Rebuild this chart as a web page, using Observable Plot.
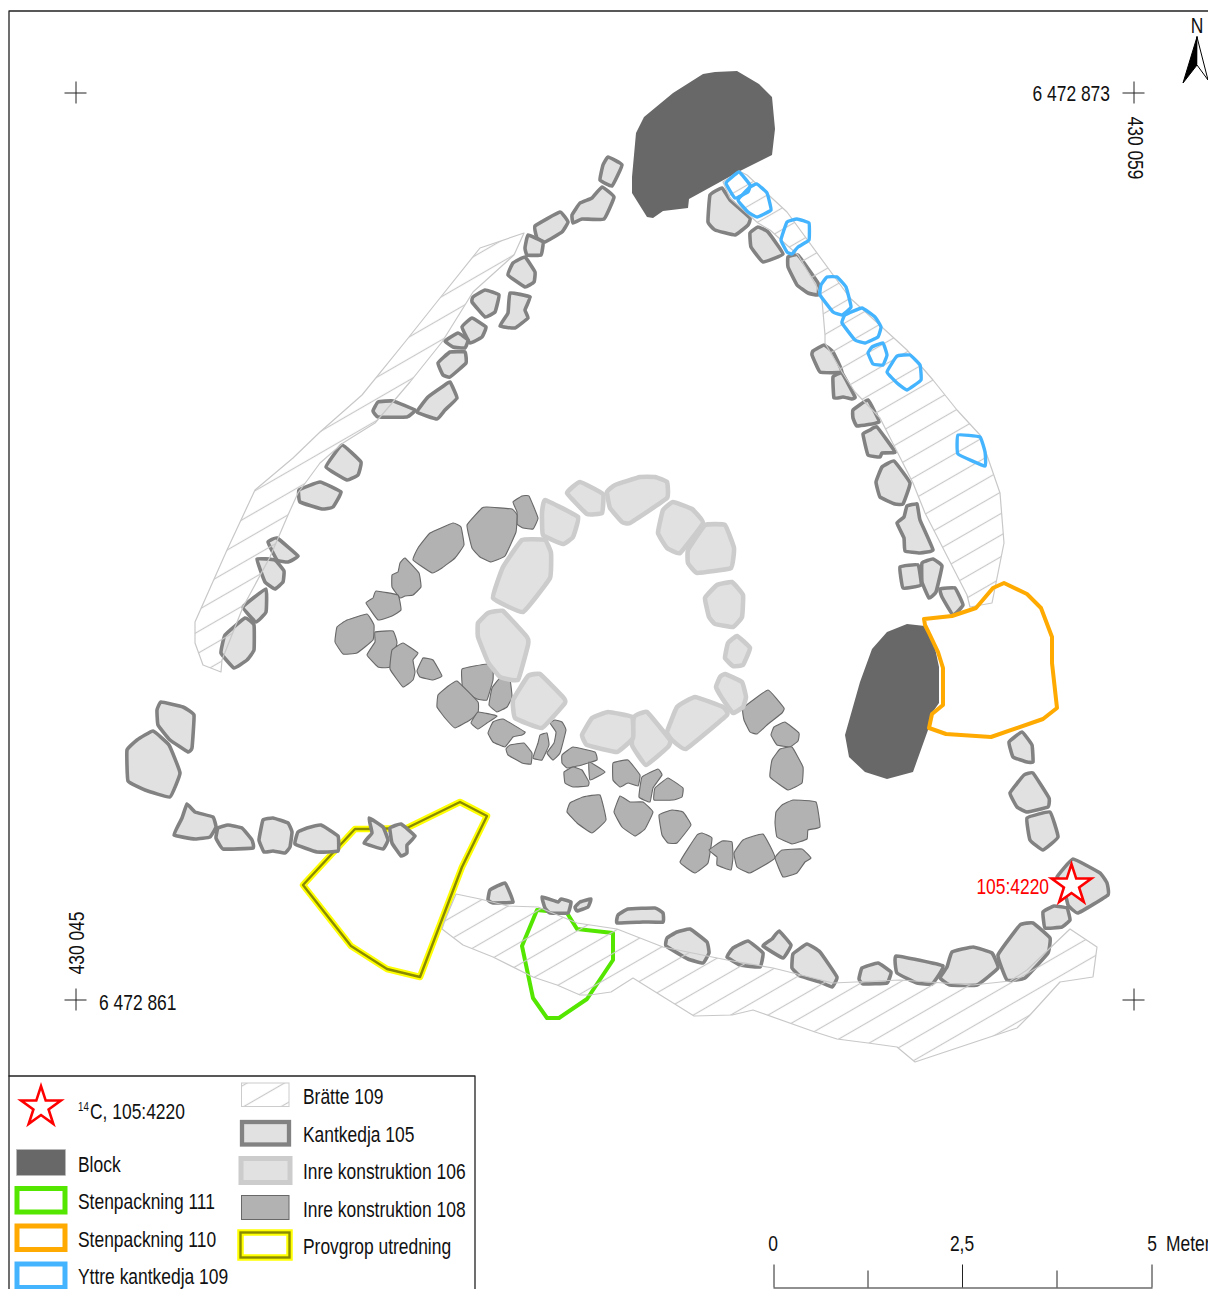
<!DOCTYPE html>
<html>
<head>
<meta charset="utf-8">
<script src="https://cdn.jsdelivr.net/npm/d3@7"></script>
<script src="https://cdn.jsdelivr.net/npm/@observablehq/plot@0.6"></script>
<style>html,body{margin:0;padding:0;background:#fff;overflow:hidden}svg{display:block}</style>
</head>
<body>
<div id="chart"></div>
<script>
// All polygons are in map units.
const block = [
[[737,71],[759,84],[772,97],[775,129],[772,155],[740,171],[689,199],[688,208],[663,211],[653,218],[647,217],[632,193],[632,177],[636,133],[644,117],[673,93],[703,74],[715,72]],
[[907,624],[925,626],[935,648],[939,667],[939,703],[932,713],[928,730],[913,772],[887,779],[865,772],[849,757],[845,735],[860,682],[872,649],[887,632]]
];
const stenpackning110 = [[[924,619],[952,616],[976,608],[993,588],[1004,583],[1027,594],[1041,608],[1052,637],[1052,663],[1057,708],[1043,719],[991,737],[946,734],[929,728],[932,714],[943,705],[943,668],[938,652],[929,633],[925,625]]];
const stenpackning111 = [[[537,910],[567,913],[577,929],[613,933],[613,960],[587,999],[559,1018],[547,1018],[533,998],[522,946]]];
const provgrop = [[[355,829],[368,829],[407,828],[460,802],[487,816],[462,867],[420,977],[387,969],[351,946],[303,885]]];
const yttreKantkedja109 = [
[[739,172],[750,185],[748,192],[735,198],[726,183]],
[[757,184],[767,193],[771,210],[757,217],[748,212],[738,200],[750,187]],
[[797,219],[809,223],[809,240],[798,247],[792,254],[787,252],[781,240],[787,222]],
[[827,277],[837,277],[846,287],[851,307],[842,315],[833,312],[820,295],[821,285]],
[[862,308],[875,317],[881,327],[878,337],[865,343],[855,340],[842,323],[845,315]],
[[883,343],[887,355],[883,365],[873,364],[868,353],[872,347]],
[[897,356],[910,355],[920,365],[921,380],[907,390],[897,383],[887,372]],
[[958,435],[980,437],[985,452],[985,466],[958,454]]
];
const kantkedja105 = [
[[608,157],[622,165],[612,186],[600,180],[603,165]],
[[602,187],[614,197],[604,219],[582,219],[573,223],[572,215],[580,203],[592,198]],
[[535,226],[560,212],[568,222],[562,232],[545,242],[537,238]],
[[528,235],[543,242],[541,255],[527,255],[525,248]],
[[525,257],[535,272],[534,282],[525,287],[508,275],[513,263]],
[[485,290],[499,295],[495,312],[485,317],[472,302],[473,297]],
[[510,293],[530,297],[525,310],[528,318],[515,328],[500,326],[508,313]],
[[472,318],[486,327],[482,337],[470,343],[462,327]],
[[458,333],[468,340],[465,348],[453,347],[445,341]],
[[450,352],[465,352],[466,363],[450,377],[443,375],[438,363]],
[[450,382],[457,398],[445,410],[437,419],[417,412],[428,397],[442,387]],
[[378,402],[393,401],[415,410],[407,417],[378,417],[373,411]],
[[342,445],[361,462],[358,475],[347,480],[326,467]],
[[320,482],[341,492],[333,507],[322,509],[300,502],[299,490]],
[[277,538],[298,556],[288,562],[277,560],[268,542]],
[[257,559],[275,560],[284,571],[283,582],[275,589],[265,582]],
[[266,589],[266,612],[256,622],[243,607]],
[[245,618],[254,625],[254,650],[247,660],[234,668],[221,653],[225,635]],
[[161,702],[183,707],[194,715],[192,748],[188,752],[170,740],[158,725],[157,710]],
[[153,731],[169,745],[180,773],[170,797],[145,790],[128,781],[127,750],[137,740]],
[[187,804],[195,812],[213,817],[216,827],[210,837],[195,839],[174,835],[182,818]],
[[228,825],[242,828],[252,840],[253,848],[223,849],[216,838],[218,828]],
[[263,820],[273,818],[288,823],[292,832],[290,847],[285,853],[273,851],[264,852],[259,840]],
[[298,832],[307,828],[321,825],[338,836],[338,851],[317,852],[295,844]],
[[369,818],[383,827],[388,840],[383,849],[364,843],[372,833]],
[[401,824],[415,836],[407,845],[407,853],[401,856],[392,843],[390,828]],
[[505,883],[513,902],[493,903],[488,900],[490,890]],
[[542,897],[558,902],[561,899],[571,902],[568,913],[550,913],[545,908]],
[[591,899],[588,907],[577,911],[575,907],[580,902]],
[[628,909],[655,908],[663,913],[663,922],[643,922],[617,923],[618,915]],
[[690,929],[707,942],[709,953],[703,963],[688,959],[666,946],[667,938],[677,932]],
[[748,941],[763,953],[760,967],[740,965],[727,957],[733,948]],
[[779,931],[791,945],[783,958],[763,946],[772,939]],
[[807,944],[820,952],[837,977],[832,987],[820,982],[800,976],[792,968],[793,954]],
[[878,963],[891,972],[887,983],[863,984],[859,979],[862,968]],
[[896,956],[943,966],[932,984],[917,983],[897,973]],
[[952,952],[973,947],[992,953],[998,968],[977,985],[950,985],[940,978],[947,967]],
[[1020,925],[1033,923],[1050,938],[1048,953],[1025,978],[1007,980],[998,955]],
[[1054,906],[1067,908],[1070,920],[1062,927],[1045,928],[1043,912]],
[[1073,859],[1100,873],[1107,883],[1108,895],[1078,913],[1068,905],[1063,883],[1057,877]],
[[1022,732],[1032,745],[1033,762],[1027,762],[1013,757],[1009,742]],
[[1033,773],[1049,798],[1048,807],[1027,812],[1017,807],[1010,793],[1024,775]],
[[1050,812],[1058,837],[1043,850],[1030,840],[1027,818]],
[[722,188],[730,200],[750,218],[748,225],[735,235],[715,230],[708,222],[710,195]],
[[758,227],[768,232],[783,254],[763,262],[751,247],[750,233]],
[[798,255],[818,283],[818,295],[808,293],[797,285],[788,267],[788,257]],
[[824,345],[833,352],[842,372],[820,372],[812,355],[813,351]],
[[842,373],[855,397],[852,399],[843,397],[834,398],[833,377]],
[[868,400],[879,422],[857,426],[853,418],[853,410]],
[[877,427],[895,452],[882,453],[880,457],[868,455],[863,434],[870,430]],
[[894,461],[910,483],[903,504],[895,504],[880,497],[876,482],[882,467]],
[[907,506],[917,504],[920,520],[933,550],[920,553],[905,551],[904,538],[897,523],[904,517]],
[[900,567],[918,565],[921,585],[903,588]],
[[933,559],[942,566],[936,592],[929,598],[922,582],[922,563]],
[[940,589],[955,588],[963,605],[953,615],[942,597]]
];
const inre108 = [
[[513,502],[522,496],[529,496],[538,518],[533,529],[523,528],[517,524],[517,512]],
[[482,508],[487,507],[512,509],[517,515],[516,532],[505,556],[491,562],[480,557],[472,548],[467,525]],
[[453,523],[461,527],[464,545],[455,558],[442,568],[432,573],[413,560],[418,548],[430,533]],
[[405,558],[419,573],[421,587],[413,595],[405,596],[400,598],[392,587],[392,575],[398,572],[400,563]],
[[376,591],[398,595],[401,610],[392,616],[378,620],[366,603],[373,598]],
[[367,614],[374,625],[373,640],[357,653],[343,654],[335,642],[337,627],[347,620]],
[[375,632],[393,631],[397,643],[390,667],[378,667],[367,655],[375,642]],
[[403,643],[418,653],[413,660],[415,672],[413,680],[403,687],[390,669],[392,650]],
[[423,658],[433,660],[442,676],[433,680],[420,677],[417,671]],
[[462,669],[487,664],[493,670],[493,680],[487,700],[477,699],[463,690]],
[[500,678],[510,680],[512,697],[507,707],[497,712],[489,705],[492,688]],
[[457,681],[478,702],[478,713],[470,720],[455,728],[445,718],[437,707],[438,695],[447,687]],
[[478,712],[497,716],[487,723],[478,729],[471,723]],
[[503,719],[525,732],[522,735],[513,737],[505,747],[493,742],[488,733],[493,722]],
[[555,720],[562,722],[566,730],[560,753],[553,760],[547,753],[554,743],[556,732],[550,723]],
[[540,735],[547,733],[549,745],[542,760],[533,758],[538,743]],
[[510,745],[524,743],[532,753],[531,764],[522,763],[508,755],[506,749]],
[[573,747],[595,752],[597,760],[582,765],[567,768],[562,763],[562,755]],
[[573,767],[582,770],[589,782],[588,786],[573,787],[565,783],[564,772]],
[[589,762],[605,772],[590,780]],
[[628,760],[640,775],[638,786],[628,783],[620,787],[613,780],[613,763]],
[[658,769],[662,775],[653,788],[650,802],[639,797],[642,777]],
[[668,778],[683,788],[682,797],[673,800],[654,800],[655,788]],
[[600,795],[606,820],[592,833],[577,823],[567,812],[570,803],[583,797]],
[[620,796],[630,802],[643,802],[653,812],[645,829],[635,836],[622,827],[614,812]],
[[672,810],[683,812],[691,825],[677,843],[668,843],[662,835],[659,815]],
[[702,833],[712,838],[708,863],[695,873],[680,862],[697,835]],
[[722,841],[732,842],[733,857],[731,870],[717,865],[717,857],[709,850]],
[[763,834],[775,858],[750,873],[737,867],[734,853],[743,840]],
[[776,812],[782,805],[793,800],[816,802],[820,827],[808,830],[807,839],[792,844],[777,837],[775,823]],
[[782,850],[802,849],[811,858],[805,862],[797,873],[783,877],[775,858]],
[[768,690],[784,708],[782,713],[767,725],[757,734],[750,732],[744,720],[743,708]],
[[785,722],[799,733],[798,741],[790,747],[777,745],[771,735],[774,727]],
[[792,747],[803,767],[802,783],[788,790],[770,777],[772,760],[780,749]]
];
const inre106 = [
[[545,500],[578,517],[573,537],[563,544],[543,535],[542,513]],
[[580,482],[603,494],[602,513],[587,514],[567,493]],
[[640,477],[655,477],[667,482],[667,498],[630,523],[622,522],[610,508],[607,492],[615,485]],
[[673,502],[692,509],[703,523],[680,553],[667,548],[658,533],[663,510]],
[[705,525],[725,525],[734,548],[731,568],[697,573],[688,563],[688,550]],
[[732,582],[743,595],[742,617],[733,627],[715,624],[709,617],[705,598],[717,585]],
[[737,636],[750,648],[743,665],[733,666],[725,658],[728,643]],
[[725,674],[742,682],[746,697],[743,707],[733,713],[722,698],[716,687],[720,677]],
[[695,697],[723,707],[727,715],[686,749],[672,740],[667,732],[677,707]],
[[647,712],[670,740],[668,747],[646,765],[632,745],[634,717]],
[[608,712],[632,717],[633,738],[617,752],[587,745],[582,735],[592,718]],
[[522,540],[545,540],[551,553],[550,578],[523,612],[493,598],[503,567]],
[[488,613],[503,611],[527,637],[528,645],[518,680],[500,677],[488,662],[478,637],[478,623]],
[[528,676],[540,674],[563,697],[565,703],[542,728],[515,718],[513,700]]
];
const bratte109 = [
[[524,233],[480,248],[440,298],[405,342],[362,395],[320,432],[293,458],[255,490],[227,550],[195,622],[195,643],[203,665],[221,672],[222,660],[243,607],[270,557],[288,515],[298,493],[320,463],[343,443],[375,423],[410,382],[442,342],[465,305],[473,292],[514,255]],
[[739,171],[747,175],[787,212],[850,298],[860,307],[907,350],[933,380],[957,410],[980,435],[1000,493],[1004,543],[992,603],[970,607],[967,595],[925,513],[913,483],[880,418],[855,392],[842,372],[825,343],[825,335],[822,300],[817,287],[798,255],[770,230],[758,223],[730,198],[723,182]],
[[456,894],[480,899],[508,906],[538,907],[577,923],[617,929],[663,947],[727,960],[773,968],[833,983],[900,980],[973,985],[1010,981],[1027,970],[1070,929],[1097,947],[1093,977],[1060,982],[1030,1015],[1017,1028],[915,1062],[897,1047],[868,1043],[837,1039],[815,1032],[753,1010],[732,1015],[694,1016],[633,978],[611,992],[590,995],[580,995],[557,985],[533,977],[493,957],[463,945],[442,929],[445,920]]
];
const northLeft = [[[1197,37],[1183,83],[1197,65]]];
const northRight = [[[1197,37],[1208,80],[1197,65]]];

const crossX = [76, 1134];
const crossY = [93, 1000];
const armLength = 11;
const scaleTicks = [[774,1265],[868,1271],[962.5,1265],[1057,1271],[1152,1265]];
const scaleBase = [[774,1288],[1152,1288]];
const frameLines = [[[9,1289],[9,11],[1208,11]],[[9,1076],[475,1076],[475,1289]]];

const swatches = [
 {x1:17,x2:66,y1:1150,y2:1176,fill:"#686868",stroke:"#bbbbbb",sw:0.6},
 {x1:17.5,x2:65.5,y1:1189,y2:1212.5,fill:"white",stroke:"#55e600",sw:5},
 {x1:17.5,x2:65.5,y1:1226.5,y2:1250,fill:"white",stroke:"#ffaa00",sw:5},
 {x1:17.5,x2:65.5,y1:1264.5,y2:1288,fill:"white",stroke:"#45b4ff",sw:5},
 {x1:242,x2:289.5,y1:1083.5,y2:1107,fill:"url(#hatchKey)",stroke:"#cccccc",sw:1},
 {x1:242.5,x2:289.5,y1:1122.5,y2:1145,fill:"#e1e1e1",stroke:"#828282",sw:4.3},
 {x1:241.5,x2:290.5,y1:1159,y2:1183,fill:"#e1e1e1",stroke:"#cccccc",sw:5},
 {x1:242,x2:289.5,y1:1196,y2:1220,fill:"#b2b2b2",stroke:"#686868",sw:1}
];
const provgropKey = [{x1:241,x2:290,y1:1233,y2:1258}];

const startLabels = [
 {x:99,y:1003,t:"6 472 861"},
 {x:1166,y:1244,t:"Meter"},
 {x:78,y:1165,t:"Block"},
 {x:78,y:1202,t:"Stenpackning 111"},
 {x:78,y:1240,t:"Stenpackning 110"},
 {x:78,y:1277,t:"Yttre kantkedja 109"},
 {x:303,y:1097,t:"Brätte 109"},
 {x:303,y:1135,t:"Kantkedja 105"},
 {x:303,y:1172,t:"Inre konstruktion 106"},
 {x:303,y:1210,t:"Inre konstruktion 108"},
 {x:303,y:1247,t:"Provgrop utredning"},
 {x:90,y:1112,t:"C, 105:4220"}
];
const endLabels = [{x:1110,y:94,t:"6 472 873"}];
const middleLabels = [
 {x:773,y:1244,t:"0"},
 {x:962,y:1244,t:"2,5"},
 {x:1152,y:1244,t:"5"},
 {x:1197,y:26,t:"N"}
];
const rotatedDown = [{x:1135,y:148,t:"430 059"}];
const rotatedUp = [{x:77,y:943,t:"430 045"}];
const stars = [{x:1071.5,y:885},{x:41,y:1107}];
const fontFamily = "'Liberation Sans',sans-serif";
const fontSize = 21.5;
const narrow = 0.81;

const rows = polys => polys.flatMap((p, id) => p.map(([x, y]) => ({id, x, y})));
const polygons = (polys, o) => Plot.line(rows(polys), {x: "x", y: "y", z: "id", curve: "linear-closed", ...o});
const stones = (polys, o) => polygons(polys, {curve: "cardinal-closed", tension: 0.7, ...o});

const defs = () => {
  const d = d3.create("svg:defs");
  const hatch = (id, tx, ty) => {
    const p = d.append("pattern").attr("id", id).attr("patternUnits", "userSpaceOnUse")
      .attr("width", 20).attr("height", 18.7)
      .attr("patternTransform", `translate(${tx},${ty}) rotate(-30) translate(0,-9.35)`);
    p.append("line").attr("x1", 0).attr("x2", 20).attr("y1", 9.35).attr("y2", 9.35)
      .attr("stroke", "#c8c8c8").attr("stroke-width", 1.2);
  };
  hatch("hatch", 918.3, 495.7);
  hatch("hatchKey", 243, 1107);
  return d.node();
};
const ink = "#111";
const labelMark = (data, o) => Plot.text(data, {x: "x", y: "y", text: "t", fontFamily, fontSize, fill: ink, ...o});

const crosses = crossX.flatMap(x => crossY.map(y => ({x, y})));
const chart = Plot.plot({
  width: 1208, height: 1289, margin: 0,
  x: {domain: [0.5, 1208.5], axis: null},
  y: {domain: [1289.5, 0.5], axis: null},
  style: {background: "white"},
  marks: [
    defs,
    polygons(provgrop, {stroke: "#ffff00", strokeWidth: 6.5, fill: "none"}),
    polygons(provgrop, {stroke: "#8a8a00", strokeWidth: 2.4, fill: "none"}),
    polygons(stenpackning111, {stroke: "#55e600", strokeWidth: 4, fill: "none"}),
    stones(kantkedja105, {fill: "#e1e1e1", stroke: "#828282", strokeWidth: 3.6}),
    stones(inre108, {fill: "#b2b2b2", stroke: "#686868", strokeWidth: 1.1}),
    stones(inre106, {fill: "#e1e1e1", stroke: "#cccccc", strokeWidth: 4.6}),
    polygons(block, {fill: "#686868", stroke: "none"}),
    polygons(bratte109, {fill: "url(#hatch)", stroke: "#c8c8c8", strokeWidth: 1.2}),
    polygons(stenpackning110, {stroke: "#ffaa00", strokeWidth: 4, fill: "none"}),
    stones(yttreKantkedja109, {stroke: "#45b4ff", strokeWidth: 3.4, fill: "none"}),
    Plot.ruleX(crosses, {x: "x", y1: d => d.y - armLength, y2: d => d.y + armLength, stroke: "#222", strokeWidth: 1}),
    Plot.ruleY(crosses, {y: "y", x1: d => d.x - armLength, x2: d => d.x + armLength, stroke: "#222", strokeWidth: 1}),
    polygons(northLeft, {fill: "black", stroke: "black", strokeWidth: 1}),
    polygons(northRight, {fill: "white", stroke: "black", strokeWidth: 1}),
    Plot.line(frameLines[0], {x: d => d[0], y: d => d[1], stroke: "#222", strokeWidth: 1.3}),
    Plot.line(frameLines[1], {x: d => d[0], y: d => d[1], stroke: "#222", strokeWidth: 1.3}),
    Plot.line(scaleBase, {x: d => d[0], y: d => d[1], stroke: "#222", strokeWidth: 1.2}),
    Plot.ruleX(scaleTicks, {x: d => d[0], y1: d => d[1], y2: scaleBase[0][1], stroke: "#222", strokeWidth: 1}),
    Plot.rect(swatches, {x1: "x1", x2: "x2", y1: "y1", y2: "y2", fill: "fill", stroke: "stroke", strokeWidth: "sw"}),
    Plot.rect(provgropKey, {x1: "x1", x2: "x2", y1: "y1", y2: "y2", fill: "white", stroke: "#ffff00", strokeWidth: 6.5}),
    Plot.rect(provgropKey, {x1: "x1", x2: "x2", y1: "y1", y2: "y2", fill: "none", stroke: "#8a8a00", strokeWidth: 2.4}),
    Plot.dot(stars, {x: "x", y: "y", r: 12.5, symbol: "star", fill: "white", stroke: "#ff0000", strokeWidth: 2.6}),
    labelMark(startLabels, {textAnchor: "start"}),
    labelMark(endLabels, {textAnchor: "end"}),
    labelMark(middleLabels, {textAnchor: "middle"}),
    labelMark(rotatedDown, {rotate: 90}),
    labelMark(rotatedUp, {rotate: -90}),
    Plot.text(["105:4220"], {x: [1049], y: [887], text: d => d, textAnchor: "end", fontFamily, fontSize, fill: "#ff0000"}),
    Plot.text(["14"], {x: [78], y: [1107], text: d => d, textAnchor: "start", fontFamily, fontSize: 12, fill: ink})
  ]
});
document.getElementById("chart").append(chart);
// The reference lettering is a narrow face: condense the real text to the same width.
chart.querySelectorAll("text").forEach(t => {
  const len = t.getComputedTextLength();
  t.setAttribute("textLength", (len * narrow).toFixed(1));
  t.setAttribute("lengthAdjust", "spacingAndGlyphs");
});
</script>
</body>
</html>
